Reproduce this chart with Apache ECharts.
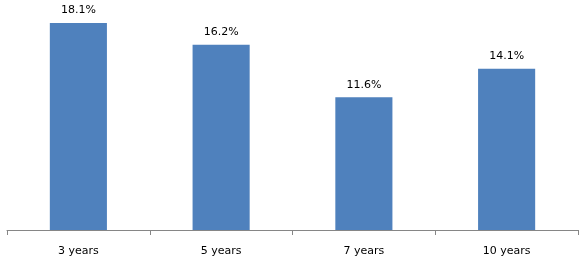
<!DOCTYPE html>
<html><head><meta charset="utf-8">
<script src="https://cdn.jsdelivr.net/npm/echarts@6/dist/echarts.min.js"></script>
<style>html,body{margin:0;padding:0;background:#fff}#c{width:585px;height:264px}</style>
</head><body><div id="c"></div>
<script>
var categories = ['3 years', '5 years', '7 years', '10 years'];
var values = [18.1, 16.2, 11.6, 14.1];

var chart = echarts.init(document.getElementById('c'), null, {renderer: 'canvas'});
chart.setOption({
  animation: false,
  grid: {left: 7, right: 7, top: 0, bottom: 34},
  xAxis: {
    type: 'category', data: categories,
    axisLine: {lineStyle: {color: '#868686', width: 1}},
    axisTick: {show: true, length: 5, lineStyle: {color: '#868686'}},
    axisLabel: {color: '#000', fontFamily: 'DejaVu Sans', fontSize: 11, margin: 16}
  },
  yAxis: {type: 'value', min: 0, max: 20.1, show: false, splitLine: {show: false}},
  series: [{
    type: 'bar', data: values, barWidth: '40%',
    itemStyle: {color: '#4F81BD'},
    label: {show: true, position: 'top', distance: 7, color: '#000', fontFamily: 'DejaVu Sans', fontSize: 11,
      formatter: function (p) { return p.value.toFixed(1) + '%'; }}
  }]
});
</script></body></html>
